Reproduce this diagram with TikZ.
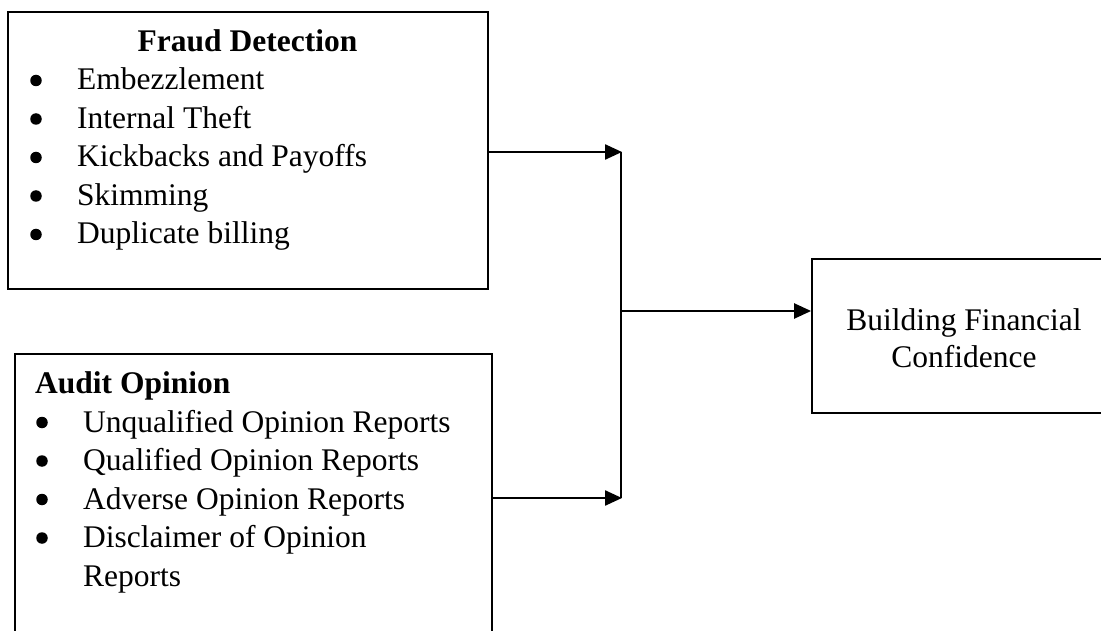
\documentclass[tikz,border=0pt]{standalone}
\usepackage{fontspec}
\setmainfont{Liberation Serif}
\usetikzlibrary{arrows.meta}
\begin{document}
\begin{tikzpicture}[x=1pt,y=-1pt,
  box/.style={draw=black,line width=1.8pt,minimum width=#1,inner sep=0pt},
  txt/.style={inner sep=0pt,anchor=base west,font=\fontsize{31.5}{38}\selectfont},
  ctr/.style={inner sep=0pt,anchor=base,font=\fontsize{31.5}{38}\selectfont},
  bul/.style={circle,fill=black,inner sep=0pt,minimum size=11.5pt},
  conn/.style={line width=2.4pt,-{Triangle[length=17pt,width=15pt]}},
  plain/.style={line width=2pt}]
\useasboundingbox (0,0) rectangle (1101,631);
\clip (0,0) rectangle (1101,631);
% boxes
\node[box=480pt,minimum height=277pt] (fraud) at (248,150.5) {};
\node[box=477pt,minimum height=320pt] (audit) at (253.5,514) {};
\node[box=320pt,minimum height=154pt] (bfc) at (972,336) {};
% fraud box text
\node[ctr,font=\fontsize{31.5}{38}\selectfont\bfseries] (fh) at (247.5,52) {Fraud Detection};
\node[bul] (fb1) at (36,80.5) {};
\node[bul] (fb2) at (36,119) {};
\node[bul] (fb3) at (36,157.5) {};
\node[bul] (fb4) at (36,196) {};
\node[bul] (fb5) at (36,234.5) {};
\node[txt] (f1) at (77,90) {Embezzlement};
\node[txt] (f2) at (77,128.5) {Internal Theft};
\node[txt] (f3) at (77,167) {Kickbacks and Payoffs};
\node[txt] (f4) at (77,205.5) {Skimming};
\node[txt] (f5) at (77,244) {Duplicate billing};
% audit box text
\node[txt,font=\fontsize{31.5}{38}\selectfont\bfseries] (ah) at (35,393.5) {Audit Opinion};
\node[bul] (ab1) at (42,422.5) {};
\node[bul] (ab2) at (42,461) {};
\node[bul] (ab3) at (42,499.5) {};
\node[bul] (ab4) at (42,538) {};
\node[txt] (a1) at (83,432) {Unqualified Opinion Reports};
\node[txt] (a2) at (83,470.5) {Qualified Opinion Reports};
\node[txt] (a3) at (83,509) {Adverse Opinion Reports};
\node[txt] (a4) at (83,547.5) {Disclaimer of Opinion};
\node[txt] (a5) at (83,586) {Reports};
% result text
\node[ctr] (b1) at (964,330.5) {Building Financial};
\node[ctr] (b2) at (964,367) {Confidence};
% connectors
\coordinate (j1) at (622,152);
\coordinate (j2) at (622,498);
\coordinate (jm) at (621,311);
\draw[plain] (621,152) -- (621,498);
\draw[conn] (fraud.east |- j1) -- (j1);
\draw[conn] (audit.east |- j2) -- (j2);
\draw[conn] (jm) -- (bfc.west |- jm);
\end{tikzpicture}
\end{document}
